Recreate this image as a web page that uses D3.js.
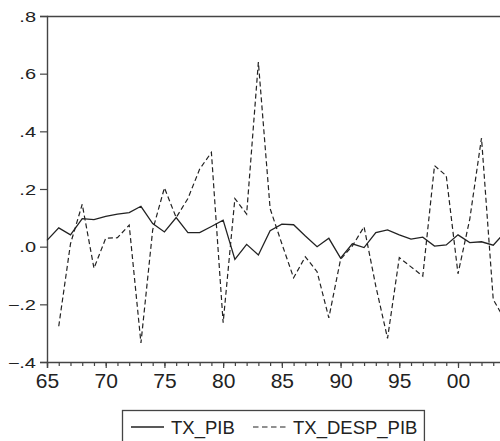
<!DOCTYPE html>
<html>
<head>
<meta charset="utf-8">
<script src="https://cdn.jsdelivr.net/npm/d3@7"></script>
<style>
  html, body { margin: 0; padding: 0; background: #fff; }
  svg { display: block; font-family: "Liberation Sans", Arial, sans-serif; }
</style>
</head>
<body>
<svg id="chart" width="500" height="441"></svg>
<script>
// Annual growth rates, 1965-2004
const years = d3.range(1965, 2005);

const txPib = [
  0.022, 0.065, 0.041, 0.097, 0.094, 0.105, 0.113, 0.118, 0.140, 0.080,
  0.051, 0.101, 0.049, 0.049, 0.070, 0.092, -0.044, 0.008, -0.029, 0.055,
  0.078, 0.076, 0.037, 0.000, 0.029, -0.040, 0.010, -0.003, 0.049, 0.058,
  0.041, 0.026, 0.033, 0.002, 0.006, 0.041, 0.014, 0.017, 0.005, 0.050
];

const txDespPib = [
  null, -0.276, 0.010, 0.147, -0.075, 0.029, 0.031, 0.075, -0.334, 0.058,
  0.204, 0.101, 0.167, 0.269, 0.327, -0.264, 0.167, 0.113, 0.640, 0.132,
  0.010, -0.108, -0.035, -0.087, -0.247, -0.044, 0.002, 0.069, -0.137, -0.318,
  -0.038, -0.070, -0.102, 0.281, 0.246, -0.094, 0.095, 0.377, -0.183, -0.255
];

const yTicks = [-0.4, -0.2, 0.0, 0.2, 0.4, 0.6, 0.8];
const xMajorTicks = [1965, 1970, 1975, 1980, 1985, 1990, 1995, 2000];

const legendLabels = ["TX_PIB", "TX_DESP_PIB"];

const svg = d3.select("#chart");
const plotLeft = 47, plotTop = 16, plotBottom = 362;
const yearStep = 11.743;
const plotRight = plotLeft + (2004 - 1965) * yearStep;

const x = d3.scaleLinear().domain([1965, 2004]).range([plotLeft, plotRight]);
const y = d3.scaleLinear().domain([-0.4, 0.8]).range([plotBottom, plotTop]);

const ink = "#222";

// frame (top and left edges; right edge falls outside the view)
svg.append("line")
  .attr("x1", plotLeft).attr("x2", plotRight + 1)
  .attr("y1", plotTop + 0.5).attr("y2", plotTop + 0.5)
  .attr("stroke", "#444").attr("stroke-width", 1.4);

// y axis
const yAxis = svg.append("g")
  .attr("transform", `translate(${plotLeft},0)`)
  .call(d3.axisLeft(y).tickValues(yTicks).tickSize(7).tickPadding(0)
    .tickFormat(d => {
      if (Math.abs(d) < 1e-9) return ".0";
      return (d < 0 ? "\u2212" : "") + "." + Math.round(Math.abs(d) * 10);
    }));
yAxis.select(".domain").attr("stroke", "#444").attr("stroke-width", 1.4);
yAxis.selectAll(".tick line").attr("stroke", "#444").attr("stroke-width", 1.2);
yAxis.selectAll(".tick text")
  .attr("x", null)
  .attr("fill", ink)
  .style("font-size", "20px")
  .attr("transform", "translate(-11,0) scale(1,0.7)")
  .attr("dy", "0.36em");

// x axis: yearly minor ticks, labelled ticks every five years
const xMinor = svg.append("g")
  .attr("transform", `translate(0,${plotBottom})`)
  .call(d3.axisBottom(x).tickValues(years).tickSize(4).tickFormat(""));
xMinor.select(".domain").remove();
xMinor.selectAll(".tick line").attr("stroke", "#444").attr("stroke-width", 1.2);

const xAxis = svg.append("g")
  .attr("transform", `translate(0,${plotBottom})`)
  .call(d3.axisBottom(x).tickValues(xMajorTicks).tickSize(6)
    .tickFormat(d => String(d % 100).padStart(2, "0")));
xAxis.select(".domain").attr("stroke", "#444").attr("stroke-width", 1.4);
xAxis.selectAll(".tick line").attr("stroke", "#444").attr("stroke-width", 1.2);
xAxis.selectAll(".tick text")
  .attr("y", 26).attr("dy", null)
  .attr("fill", ink)
  .style("font-size", "21px");

// series lines
const line = d3.line()
  .defined(d => d.v !== null)
  .x(d => x(d.year))
  .y(d => y(d.v));

const pibData = years.map((yr, i) => ({ year: yr, v: txPib[i] }));
const despData = years.map((yr, i) => ({ year: yr, v: txDespPib[i] }));

svg.append("path")
  .datum(despData)
  .attr("d", line)
  .attr("fill", "none")
  .attr("stroke", ink)
  .attr("stroke-width", 1.2)
  .attr("stroke-dasharray", "5,3");

svg.append("path")
  .datum(pibData)
  .attr("d", line)
  .attr("fill", "none")
  .attr("stroke", ink)
  .attr("stroke-width", 1.3);

// legend
const legend = svg.append("g");
const legY = 427;
const legBox = legend.append("rect")
  .attr("x", 122.5).attr("y", 410.5)
  .attr("height", 60)
  .attr("fill", "none")
  .attr("stroke", "#444").attr("stroke-width", 1.3);

legend.append("line")
  .attr("x1", 131).attr("x2", 164)
  .attr("y1", legY).attr("y2", legY)
  .attr("stroke", ink).attr("stroke-width", 1.3);
legend.append("text")
  .attr("x", 171).attr("y", 434)
  .attr("fill", ink)
  .style("font-size", "18.5px")
  .text(legendLabels[0]);

legend.append("line")
  .attr("x1", 253).attr("x2", 286)
  .attr("y1", legY).attr("y2", legY)
  .attr("stroke", ink).attr("stroke-width", 1.2)
  .attr("stroke-dasharray", "5.5,3.5");
const t2 = legend.append("text")
  .attr("x", 293).attr("y", 434)
  .attr("fill", ink)
  .style("font-size", "18.5px")
  .text(legendLabels[1]);

const t2Box = t2.node().getBBox();
legBox.attr("width", t2Box.x + t2Box.width + 7 - 122.5);
</script>
</body>
</html>
